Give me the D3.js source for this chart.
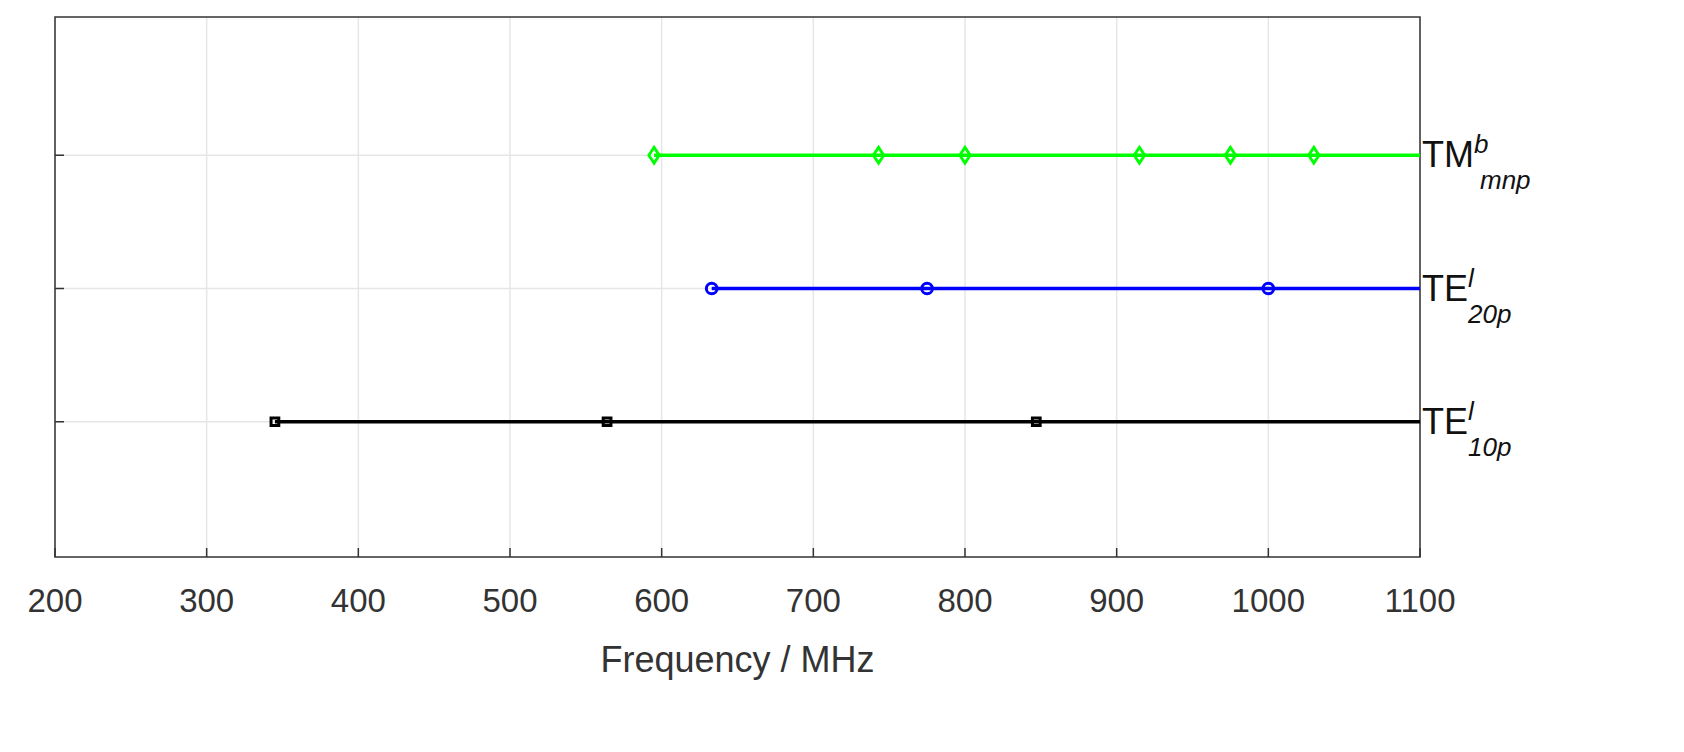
<!DOCTYPE html>
<html><head><meta charset="utf-8">
<script src="https://cdn.jsdelivr.net/npm/d3@7"></script>
<style>body{margin:0;background:#fff}text{font-family:Arial,"Liberation Sans",sans-serif}</style>
</head><body><svg id="c" width="1684" height="752"></svg>
<script>
// x ticks
var xTicks = [200, 300, 400, 500, 600, 700, 800, 900, 1000, 1100];
// one row per mode, y level 1..3
var modes = ["TE10", "TE20", "TM"];
var levels = [1, 2, 3];
var colors = ["#000000", "#0000ff", "#00ff00"];
var shapes = ["square", "circle", "diamond"];
var te10Freqs = [345, 564, 847];
var te20Freqs = [633, 775, 1000];
var tmFreqs = [595, 743, 800, 915, 975, 1030];
var freqs = [te10Freqs, te20Freqs, tmFreqs];

var svg = d3.select("#c");
var pL = 55, pR = 1420, pT = 17, pB = 557;
var x = d3.scaleLinear().domain([200, 1100]).range([pL, pR]);
var y = d3.scaleLinear().domain([0, 4]).range([pB - 2, pT + 5]);

// grid
svg.selectAll(".gx").data(xTicks).enter().append("line")
  .attr("x1", d => x(d)).attr("x2", d => x(d)).attr("y1", pT).attr("y2", pB)
  .attr("stroke", "#e6e6e6").attr("stroke-width", 1.5);
svg.selectAll(".gy").data(levels).enter().append("line")
  .attr("x1", pL).attr("x2", pR).attr("y1", d => y(d)).attr("y2", d => y(d))
  .attr("stroke", "#e6e6e6").attr("stroke-width", 1.5);

// box
svg.append("rect").attr("x", pL).attr("y", pT).attr("width", pR - pL).attr("height", pB - pT)
  .attr("fill", "none").attr("stroke", "#333").attr("stroke-width", 1.5);

// tick marks
svg.selectAll(".tx").data(xTicks).enter().append("line")
  .attr("x1", d => x(d)).attr("x2", d => x(d)).attr("y1", pB).attr("y2", pB - 9).attr("stroke", "#333").attr("stroke-width", 1.5);
svg.selectAll(".ty").data(levels).enter().append("line")
  .attr("x1", pL).attr("x2", pL + 9).attr("y1", d => y(d)).attr("y2", d => y(d)).attr("stroke", "#333").attr("stroke-width", 1.5);

svg.selectAll(".xl").data(xTicks).enter().append("text")
  .attr("x", d => x(d)).attr("y", 612).attr("text-anchor", "middle")
  .attr("font-size", 33).attr("fill", "#333").text(d => d);
svg.append("text").attr("x", (pL + pR) / 2).attr("y", 672).attr("text-anchor", "middle")
  .attr("font-size", 36).attr("fill", "#333").text("Frequency / MHz");

// lines + markers
modes.forEach(function (m, i) {
  var yy = y(levels[i]);
  var f = freqs[i];
  svg.append("line").attr("x1", x(d3.min(f))).attr("x2", x(1100)).attr("y1", yy).attr("y2", yy)
    .attr("stroke", colors[i]).attr("stroke-width", 3.5);
  var sym = shapes[i] === "square" ? d3.symbolSquare : shapes[i] === "circle" ? d3.symbolCircle : d3.symbolDiamond2;
  var size = shapes[i] === "square" ? 60 : shapes[i] === "circle" ? 90 : 110;
  svg.selectAll(".m" + i).data(f).enter().append("path")
    .attr("d", d3.symbol().type(sym).size(size))
    .attr("transform", d => "translate(" + x(d) + "," + yy + ")" + (shapes[i] === "diamond" ? " scale(0.8,1.2)" : ""))
    .attr("fill", "none").attr("stroke", colors[i]).attr("stroke-width", 3);
});

// labels
var labs = [["TE", "l", "10p"], ["TE", "l", "20p"], ["TM", "b", "mnp"]];
labs.forEach(function (l, i) {
  var yy = y(levels[i]);
  var t = svg.append("text").attr("x", pR + 2).attr("y", yy + 12).attr("font-size", 36).attr("fill", "#111");
  t.append("tspan").text(l[0]);
  t.append("tspan").attr("font-size", 26).attr("font-style", "italic").attr("dy", -14).text(l[1]);
  t.append("tspan").attr("font-size", 26).attr("font-style", "italic")
    .attr("x", pR + (l[0] === "TM" ? 60 : 48)).attr("dy", 36).text(l[2]);
});
</script></body></html>
